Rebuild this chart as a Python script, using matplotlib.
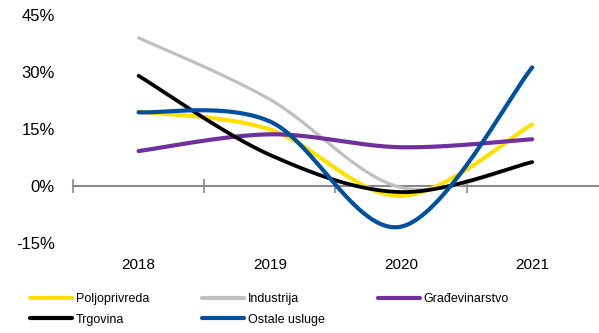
import numpy as np
import matplotlib
matplotlib.use("Agg")
import matplotlib.pyplot as plt
from matplotlib.lines import Line2D

plt.rcParams['font.family'] = ['Liberation Sans', 'DejaVu Sans']

years = ["2018", "2019", "2020", "2021"]
poljoprivreda = [19.6, 14.9, -2.6, 16.2]
industrija = [39.0, 22.8, -0.4, 6.2]
gradjevinarstvo = [9.2, 13.6, 10.2, 12.3]
trgovina = [29.0, 8.2, -1.6, 6.3]
ostale_usluge = [19.4, 17.0, -10.7, 31.2]

series = [
    ("Industrija", industrija, "#C0C0C0", 2.3),
    ("Poljoprivreda", poljoprivreda, "#FFE000", 3.0),
    ("Građevinarstvo", gradjevinarstvo, "#7030A0", 3.0),
    ("Trgovina", trgovina, "#000000", 2.7),
    ("Ostale usluge", ostale_usluge, "#0050A0", 3.0),
]


def smooth(xs, ys, n=60):
    P = np.column_stack([xs, ys]).astype(float)
    m = len(P)
    out = []
    for i in range(m - 1):
        p0 = P[i - 1] if i > 0 else P[i]
        p1 = P[i]
        p2 = P[i + 1]
        p3 = P[i + 2] if i + 2 < m else P[i + 1]
        c1 = p1 + (p2 - p0) / 6.0
        c2 = p2 - (p3 - p1) / 6.0
        t = np.linspace(0, 1, n)[:, None]
        b = ((1 - t) ** 3) * p1 + 3 * ((1 - t) ** 2) * t * c1 + 3 * (1 - t) * t ** 2 * c2 + t ** 3 * p2
        out.append(b if i == 0 else b[1:])
    out = np.vstack(out)
    return out[:, 0], out[:, 1]


fig = plt.figure(figsize=(5.99, 3.33), dpi=100)
ax = fig.add_axes([73 / 599, 1 - 243 / 333, 1 - 73 / 599 - 0.002, (243 - 15) / 333])

x = np.arange(len(years))
handles = {}
for name, vals, col, lw in series:
    sx, sy = smooth(x, vals)
    ax.plot(sx, sy, color=col, lw=lw, solid_capstyle='round', label=name)
    handles[name] = Line2D([], [], color=col, lw=3.0, solid_capstyle='round')

ax.set_xlim(-0.5, len(years) - 0.5)
ax.set_ylim(-15, 45)
ax.set_yticks([-15, 0, 15, 30, 45])
ax.set_yticklabels([f"{v}%" for v in [-15, 0, 15, 30, 45]], fontsize=12)
ax.tick_params(axis='y', length=0, pad=13)
ax.set_xticks(x)
ax.set_xticklabels(years, fontsize=11)
ax.tick_params(axis='x', length=0, pad=11)
for s in ax.spines.values():
    s.set_visible(False)

sec = ax.secondary_xaxis(0.25)
sec.set_xticks(np.arange(-0.5, len(years) - 1, 1.0))
sec.set_xticklabels([])
sec.tick_params(axis='x', direction='inout', length=10, width=1.2, color='#898989')
sec.spines['bottom'].set_color('#898989')
sec.spines['bottom'].set_linewidth(1.5)
for k in ['top', 'left', 'right']:
    sec.spines[k].set_visible(False)

order = ["Poljoprivreda", "Trgovina", "Industrija", "Ostale usluge", "Građevinarstvo"]
fig.legend([handles[n] for n in order], order, ncol=3, loc='upper left',
           bbox_to_anchor=(30 / 599, 1 - 293 / 333), frameon=False, fontsize=9,
           handlelength=3.35, handletextpad=0.3, columnspacing=4.25, labelspacing=0.68,
           borderaxespad=0, borderpad=0)

fig.savefig("out.png", dpi=100)
